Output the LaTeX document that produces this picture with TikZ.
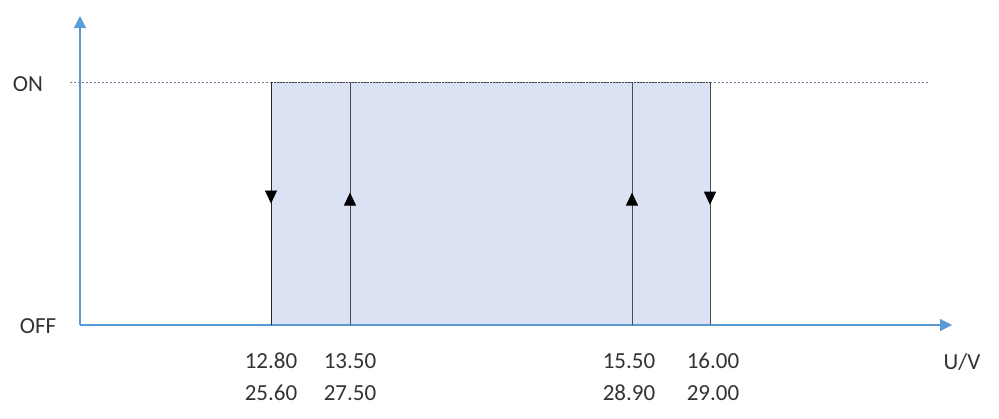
\documentclass[tikz,border=0pt]{standalone}
\usepackage{fontspec}
\setmainfont{Carlito}
\usetikzlibrary{arrows.meta,decorations.markings}
\definecolor{axisblue}{RGB}{91,155,213}
\definecolor{bandfill}{RGB}{218,226,243}
\definecolor{dashcol}{RGB}{110,130,160}
\tikzset{
  axis/.style={axisblue,line width=1.2pt,-{Triangle[width=12pt,length=12pt]}},
  lbl/.style={font=\fontsize{23}{27}\selectfont,text=black!80,inner sep=0pt},
  vline/.style={black!70,line width=0.9pt},
  midtri/.style={postaction={decorate},decoration={markings,
     mark=at position #1 with {\arrow[black]{Triangle[width=12pt,length=13pt]}}}}
}
\begin{document}
\begin{tikzpicture}[x=1pt,y=-1pt]
\useasboundingbox (0,0) rectangle (999,418);
% key coordinates
\coordinate (o) at (80,325);
\coordinate (ytop) at (80,16);
\coordinate (xend) at (952,325);
\coordinate (dl) at (70,82);
\coordinate (dr) at (928,82);
\coordinate (at) at (271,82); \coordinate (ab) at (271,325);
\coordinate (bt) at (350,82); \coordinate (bb) at (350,325);
\coordinate (ct) at (632,82); \coordinate (cb) at (632,325);
\coordinate (dt) at (710,82); \coordinate (db) at (710,325);
% band
\fill[bandfill] (at) rectangle (db);
% dashed ON line
\draw[dashcol,line width=0.6pt,dash pattern=on 2pt off 2pt] (dl) -- (dr);
\draw[black!75,line width=1pt,dash pattern=on 2pt off 1pt] (at) -- (dt);
% axes
\draw[axis] (o) -- (ytop);
\draw[axis] (o) -- (xend);
% vertical transitions
\draw[vline,black!85,midtri=0.5] (at) -- (ab);
\draw[vline,midtri=0.545] (bb) -- (bt);
\draw[vline,midtri=0.545] (cb) -- (ct);
\draw[vline,midtri=0.505] (dt) -- (db);
% labels
\node[lbl] (on) at (28,84) {ON};
\node[lbl] (off) at (38,326) {OFF};
\node[lbl] (a1) at (271,361) {12.80};
\node[lbl] (a2) at (271,393) {25.60};
\node[lbl] (b1) at (350,361) {13.50};
\node[lbl] (b2) at (350,393) {27.50};
\node[lbl] (c1) at (629,361) {15.50};
\node[lbl] (c2) at (629,393) {28.90};
\node[lbl] (d1) at (713,361) {16.00};
\node[lbl] (d2) at (713,393) {29.00};
\node[lbl] (uv) at (962,362) {U/V};
\end{tikzpicture}
\end{document}
